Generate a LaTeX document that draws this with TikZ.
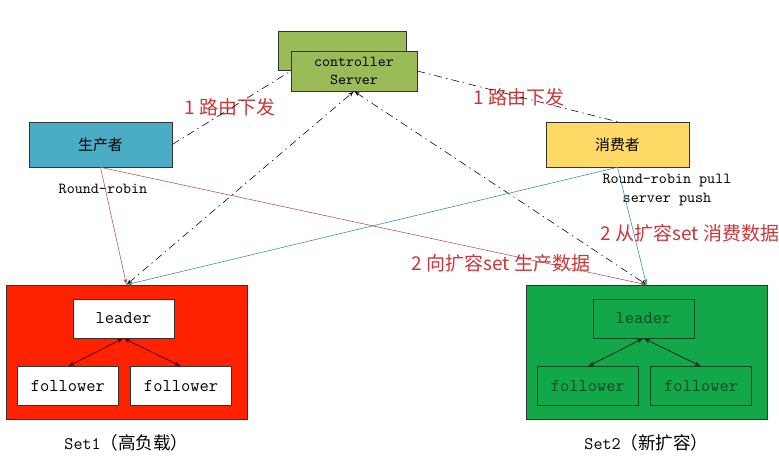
\documentclass[tikz,border=0pt]{standalone}
\usepackage{fontspec}
\newfontfamily\cjk{Noto Sans CJK SC}
\usepackage{tikz}
\usetikzlibrary{%
   arrows,%
   calc,%
   positioning}
\definecolor{ctrlgreen}{HTML}{9BBB59}
\definecolor{prodblue}{HTML}{4BACC6}
\definecolor{consyellow}{HTML}{FFD966}
\definecolor{setred}{HTML}{FF2200}
\definecolor{setgreen}{HTML}{12A84A}
\definecolor{darkgreen}{HTML}{0E4A22}
\definecolor{labelred}{HTML}{C8373A}
\definecolor{rrline}{HTML}{B4544E}
\definecolor{pullline}{HTML}{3C85A8}

\begin{document}
\begin{tikzpicture}
[x=0.025cm, y=-0.025cm,
 font=\ttfamily,
 box/.style={draw=black!80, rectangle, thin, minimum height=11.25mm, minimum width=35.75mm, font=\cjk\fontsize{10.6}{12}\selectfont},
 ctrlbox/.style={draw=black!80, rectangle, thin, fill=ctrlgreen, minimum height=10mm, minimum width=31.5mm, align=center, font=\ttfamily\fontsize{10.8}{12.5}\selectfont},
 setbox/.style={draw=black!80, rectangle, thin, minimum height=33.5mm, minimum width=60.25mm},
 member/.style={draw=black!80, rectangle, thin, minimum height=9.75mm, minimum width=25.25mm, font=\ttfamily\fontsize{12.8}{14}\selectfont},
 setlabel/.style={font=\fontsize{12.5}{14}\selectfont},
 note/.style={font=\ttfamily\fontsize{10.9}{13.5}\selectfont, align=center},
 redlabel/.style={text=labelred, font=\cjk\fontsize{13.5}{15}\selectfont},
 pfeil/.style={-latex', thin},
 route/.style={thin, dash pattern=on 5.5pt off 3pt on 1pt off 3pt},
 inner/.style={latex'-latex', semithick}]
\useasboundingbox (0,0) rectangle (779,470);
% controller
\node (ctrlbk) [ctrlbox, minimum width=32mm, minimum height=9.75mm] at (342,50.5) {};
\node (ctrl) [ctrlbox] at (354,71) {controller\\Server};
% producer / consumer
\node (prod) [box, fill=prodblue] at (100.5,144.5) {生产者};
\node (cons) [box, fill=consyellow] at (617.5,144.5) {消费者};
% the two sets
\node (set1) [setbox, fill=setred] at (126.5,352) {};
\node (set2) [setbox, fill=setgreen] at (646.5,352) {};
\node (leader1) [member, fill=white, below=3.5mm of set1.north, xshift=-0.75mm] {leader};
\node (fol1a) [member, fill=white, below left=7mm and -11.5mm of leader1] {follower};
\node (fol1b) [member, fill=white, below right=7mm and -11mm of leader1] {follower};
\node (leader2) [member, draw=darkgreen, text=darkgreen, fill=setgreen, below=3.5mm of set2.north, xshift=-0.75mm] {leader};
\node (fol2a) [member, draw=darkgreen, text=darkgreen, fill=setgreen, below left=7mm and -11.5mm of leader2] {follower};
\node (fol2b) [member, draw=darkgreen, text=darkgreen, fill=setgreen, below right=7mm and -11mm of leader2] {follower};
\node (set1lbl) [setlabel, below=2.5mm of set1] {\ttfamily Set1\cjk（高负载）};
\node (set2lbl) [setlabel, below=2.5mm of set2] {\ttfamily Set2\cjk（新扩容）};
% texts
\node (rrprod) [note] at (103,189) {Round-robin};
\node (rrcons) [note] at (667,190) {Round-robin pull\\server push};
\node (route1) [redlabel] at (230,107) {1 路由下发};
\node (route2) [redlabel] at (519,97) {1 路由下发};
\node (write2) [redlabel] at (501,263) {2 向扩容set 生产数据};
\node (read2) [redlabel] at (690,233) {2 从扩容set 消费数据};
% connectors
\draw[route] (prod.east) -- (ctrl.west);
\draw[route] (ctrl.east) -- (cons.north);
\draw[pfeil, route, latex'-latex'] (set1.north) -- (ctrl.south);
\draw[pfeil, route, latex'-latex'] (ctrl.south) -- (set2.north);
\draw[pfeil, rrline] (prod.south) -- (set1.north);
\draw[pfeil, rrline] (prod.south) -- (set2.north);
\draw[pfeil, pullline] (cons.south) -- (set1.north);
\draw[pfeil, pullline] (cons.south) -- (set2.north);
\draw[inner, black!60!red] (leader1.south) -- (fol1a.north);
\draw[inner, black!60!red] (leader1.south) -- (fol1b.north);
\draw[inner, black!85] (leader2.south) -- (fol2a.north);
\draw[inner, black!85] (leader2.south) -- (fol2b.north);
\end{tikzpicture}
\end{document}
